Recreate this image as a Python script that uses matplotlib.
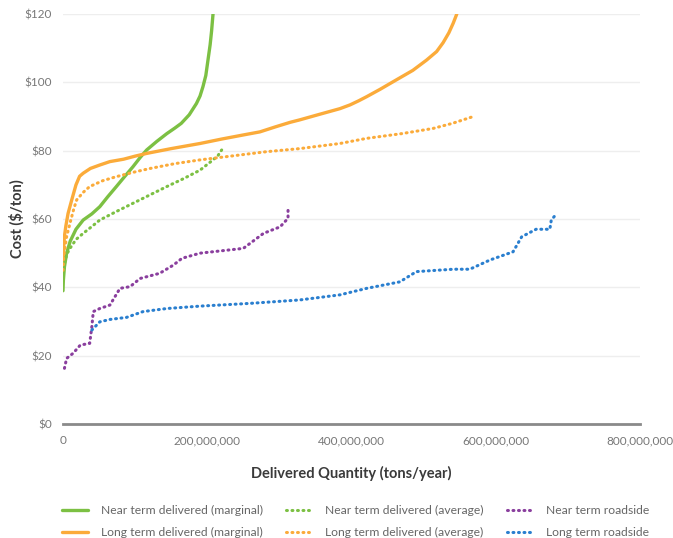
import numpy as np
import matplotlib.pyplot as plt
from matplotlib.ticker import FuncFormatter

# quantities in millions of tons/year, costs in $/ton
near_marg_x = [0, 0.5, 2, 5, 10, 18, 28, 40, 51, 62, 74, 85, 97, 107, 116, 130, 144, 155, 164,
               175, 185, 190, 194, 198, 201, 204, 206, 208]
near_marg_y = [39, 42, 46, 50, 53.5, 57, 59.7, 61.5, 63.6, 66.5, 69.5, 72.3, 75.3, 78, 80.2, 82.7,
               85, 86.6, 88, 90.5, 93.8, 96, 98.7, 102, 106.5, 111, 115, 120]

long_marg_x = [0, 1, 2, 4, 7, 12, 18, 23, 28, 38, 51, 65, 84, 100, 116, 150, 190, 220, 250, 273,
               295, 315, 328, 355, 384, 398, 410, 421, 440, 462, 485, 504, 518, 527, 535, 541, 546]
long_marg_y = [47, 52, 55, 58, 61.6, 65.5, 70, 72.5, 73.4, 74.8, 75.8, 76.8, 77.5, 78.4, 79.2, 80.6,
               82.1, 83.4, 84.6, 85.5, 87, 88.3, 89, 90.6, 92.3, 93.4, 94.6, 95.8, 98, 100.7, 103.5,
               106.5, 109, 111.6, 114.5, 117.3, 120]

near_avg_x = [0, 1, 3, 6, 10, 18, 28, 40, 51, 75, 97, 120, 144, 168, 190, 208, 215, 220]
near_avg_y = [44, 46, 48, 50, 51.5, 54, 55.8, 57.8, 59.7, 62.3, 64.6, 67, 69.5, 71.9, 74.3, 77.3, 78.6, 80.2]

long_avg_x = [0, 1, 3, 5, 10, 15, 19, 28, 37, 55, 74, 100, 121, 155, 190, 240, 282, 328, 384, 421,
              470, 513, 540, 566]
long_avg_y = [45, 49, 52, 54.8, 59, 63, 65.6, 67.8, 69.5, 71.2, 72.4, 73.8, 74.8, 76.2, 77.3, 78.6,
              79.7, 80.6, 82.1, 83.6, 85, 86.5, 88, 89.8]

near_road_x = [2, 5, 14, 24, 37, 40, 42, 51, 65, 79, 93, 107, 134, 153, 165, 190, 250, 278, 301, 312, 312]
near_road_y = [16.3, 19.2, 20.7, 23.1, 23.6, 28.5, 32.9, 33.8, 34.8, 39.7, 40.2, 42.6, 44.1, 46.5,
               48.5, 50, 51.4, 55.8, 57.7, 60.2, 63.6]

long_road_x = [40, 51, 65, 88, 111, 144, 190, 259, 328, 384, 421, 467, 490, 541, 564, 592, 624, 636,
               656, 675, 677, 683]
long_road_y = [27.5, 29.9, 30.6, 31.2, 32.9, 33.8, 34.5, 35.3, 36.3, 37.8, 39.7, 41.6, 44.6, 45.3,
               45.3, 48, 50.4, 54.8, 57, 57, 59.7, 61.2]

labels = ['Near term delivered (marginal)', 'Long term delivered (marginal)',
          'Near term delivered (average)', 'Long term delivered (average)',
          'Near term roadside', 'Long term roadside']

green = '#7cc043'
orange = '#fbab3a'
purple = '#8a3f9e'
blue = '#2a7fcf'

plt.rcParams['font.family'] = ['Lato', 'DejaVu Sans']

fig = plt.figure(figsize=(6.73, 5.38), dpi=100)
ax = fig.add_axes([63/673, 1 - 424/538, (640 - 63)/673, 410/538])

M = 1e6
solid = dict(lw=2.4, solid_capstyle='round', solid_joinstyle='round')
dots = dict(lw=2.2, linestyle=(0, (0.3, 1.5)), dash_capstyle='round')

ax.plot(np.array(near_marg_x) * M, near_marg_y, color=green, label=labels[0], **solid)
ax.plot(np.array(long_marg_x) * M, long_marg_y, color=orange, label=labels[1], **solid)
ax.plot(np.array(near_avg_x) * M, near_avg_y, color=green, label=labels[2], **dots)
ax.plot(np.array(long_avg_x) * M, long_avg_y, color=orange, label=labels[3], **dots)
ax.plot(np.array(near_road_x) * M, near_road_y, color=purple, label=labels[4], **dots)
ax.plot(np.array(long_road_x) * M, long_road_y, color=blue, label=labels[5], **dots)

ax.set_xlim(0, 800 * M)
ax.set_ylim(0, 120)
ax.set_xticks(np.arange(0, 801, 200) * M)
ax.set_yticks(np.arange(0, 121, 20))
ax.xaxis.set_major_formatter(FuncFormatter(lambda v, p: f'{int(v):,}'))
ax.yaxis.set_major_formatter(FuncFormatter(lambda v, p: f'${int(v)}'))

for s in ['top', 'right', 'left']:
    ax.spines[s].set_visible(False)
ax.spines['bottom'].set_color('#8a8a8a')
ax.spines['bottom'].set_linewidth(2)
ax.grid(axis='y', color='#eeeeee', lw=1)
ax.set_axisbelow(True)
ax.tick_params(length=0, colors='#777777', labelsize=8.5, pad=8)

ax.set_ylabel('Cost ($/ton)', fontsize=10.5, fontweight='bold', color='#3a3a3a')
ax.yaxis.set_label_coords(-0.066, 0.5)
ax.set_xlabel('Delivered Quantity (tons/year)', fontsize=10.5, fontweight='bold', color='#3a3a3a', labelpad=14)

fig.legend(loc='upper left', bbox_to_anchor=(51/673, 1 - 494/538), ncol=3, frameon=False,
           fontsize=8.7, handlelength=2.15, handletextpad=1.1, columnspacing=1.9,
           labelspacing=0.9, labelcolor='#666666')

plt.savefig('out.png', dpi=100)
